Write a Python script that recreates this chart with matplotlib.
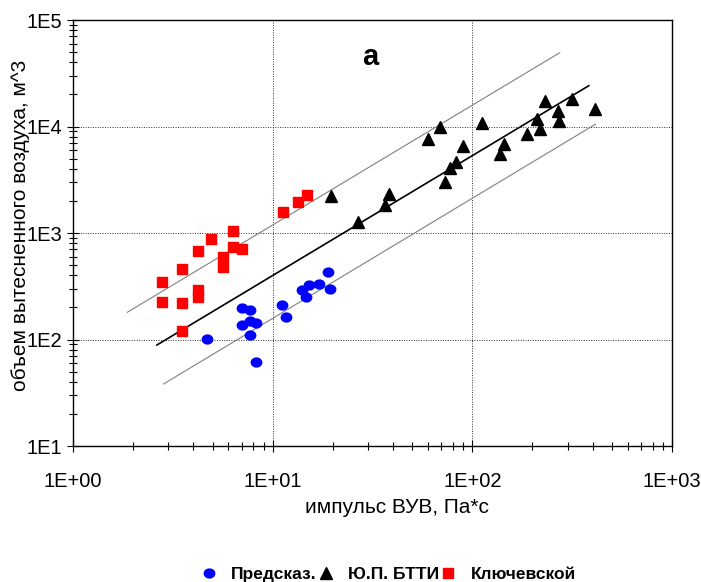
import matplotlib
matplotlib.use('Agg')
import numpy as np
import matplotlib.pyplot as plt
from matplotlib.ticker import LogLocator, FixedLocator, FixedFormatter, NullFormatter

plt.rcParams['font.family'] = ['Liberation Sans', 'DejaVu Sans']

# predicted (blue)
pred_x = [18.9, 15.2, 17.1, 14.1, 19.4, 14.7, 11.2, 11.7, 7.03, 7.69, 7.66, 8.24, 7.03, 7.66, 4.71, 8.24]
pred_y = [428, 325, 332, 292, 300, 252, 212, 164, 198, 189, 150, 142, 136, 110, 102, 62]

# Yu.P. BTTI (black triangles)
btti_x = [230, 316, 411, 270, 211, 272, 219, 188, 112, 68.9, 59.8, 144, 138, 90.1, 82.5, 76.9, 73.0, 38.3, 36.6, 26.7, 19.5]
btti_y = [17350, 18130, 14690, 13890, 11760, 11380, 9515, 8470, 10830, 9955, 7680, 6850, 5460, 6600, 4620, 4050, 3030, 2310, 1840, 1270, 2240]

# Klyuchevskoy (red squares)
kl_x = [2.80, 2.80, 3.52, 3.52, 3.50, 4.22, 4.23, 4.23, 4.92, 5.63, 5.63, 6.36, 6.34, 7.06, 11.25, 13.4, 14.8]
kl_y = [349, 227, 456, 219, 121, 682, 292, 251, 873, 595, 480, 1051, 734, 708, 1585, 1955, 2274]

# regression line and band
fit_x = [2.63, 383]
fit_y = [88.7, 24150]
up_x = [1.87, 274]
up_y = [180, 49300]
lo_x = [2.84, 413]
lo_y = [38.2, 10490]

# slightly flattened dot, like the original
t = np.linspace(0, 2 * np.pi, 40)
ellipse = np.column_stack([np.cos(t) * 1.15, np.sin(t)])

fig = plt.figure(figsize=(7.01, 5.82), dpi=100)
ax = fig.add_axes([73/701, 1 - 446/582, 599/701, 426/582])

ax.plot(up_x, up_y, color='#808080', lw=0.8, zorder=2)
ax.plot(lo_x, lo_y, color='#808080', lw=0.8, zorder=2)
ax.plot(fit_x, fit_y, color='black', lw=1.2, zorder=2)

ax.plot(pred_x, pred_y, linestyle='none', marker=ellipse, color='#0000ff', ms=8.5, mec='#0000ff', mew=0, zorder=3, label='Предсказ.')
ax.plot(btti_x, btti_y, '^', color='black', ms=8.5, zorder=3, label='Ю.П. БТТИ')
ax.plot(kl_x, kl_y, 's', color='#ff0000', ms=6.5, zorder=3, label='Ключевской')

ax.set_xscale('log')
ax.set_yscale('log')
ax.set_xlim(1, 1000)
ax.set_ylim(10, 100000)

xt = [1, 10, 100, 1000]
yt = [10, 100, 1000, 10000, 100000]
ax.xaxis.set_major_locator(FixedLocator(xt))
ax.xaxis.set_major_formatter(FixedFormatter(['1E+00', '1E+01', '1E+02', '1E+03']))
ax.yaxis.set_major_locator(FixedLocator(yt))
ax.yaxis.set_major_formatter(FixedFormatter(['1E1', '1E2', '1E3', '1E4', '1E5']))
ax.xaxis.set_minor_locator(LogLocator(base=10, subs=range(2, 10)))
ax.yaxis.set_minor_locator(LogLocator(base=10, subs=range(2, 10)))
ax.xaxis.set_minor_formatter(NullFormatter())
ax.yaxis.set_minor_formatter(NullFormatter())

ax.tick_params(which='major', direction='inout', length=9, width=0.8, labelsize=14.5, pad=14)
ax.tick_params(which='minor', direction='inout', length=6, width=0.8)
ax.tick_params(axis='y', which='major', pad=3)

ax.grid(True, which='major', color='#303030', lw=0.7, linestyle=(0, (1, 1.5)))
for s in ax.spines.values():
    s.set_linewidth(1.0)

ax.set_xlabel('импульс ВУВ, Па*с', fontsize=15)
ax.set_ylabel('объем вытесненного воздуха, м^3', fontsize=15)
ax.xaxis.set_label_coords(0.541, -0.122)
ax.yaxis.set_label_coords(-0.072, 0.519)

ax.text(0.496, 0.913, 'a', transform=ax.transAxes, fontsize=21, fontweight='bold',
        ha='center', va='center')

fig.legend(loc='center', bbox_to_anchor=(388/701, 1 - 574/582), ncol=3, frameon=False,
           prop={'weight': 'bold', 'size': 12.5}, handletextpad=0.8, columnspacing=0.0,
           handlelength=1.0, markerscale=1.0)

fig.savefig('out.png', dpi=100)
